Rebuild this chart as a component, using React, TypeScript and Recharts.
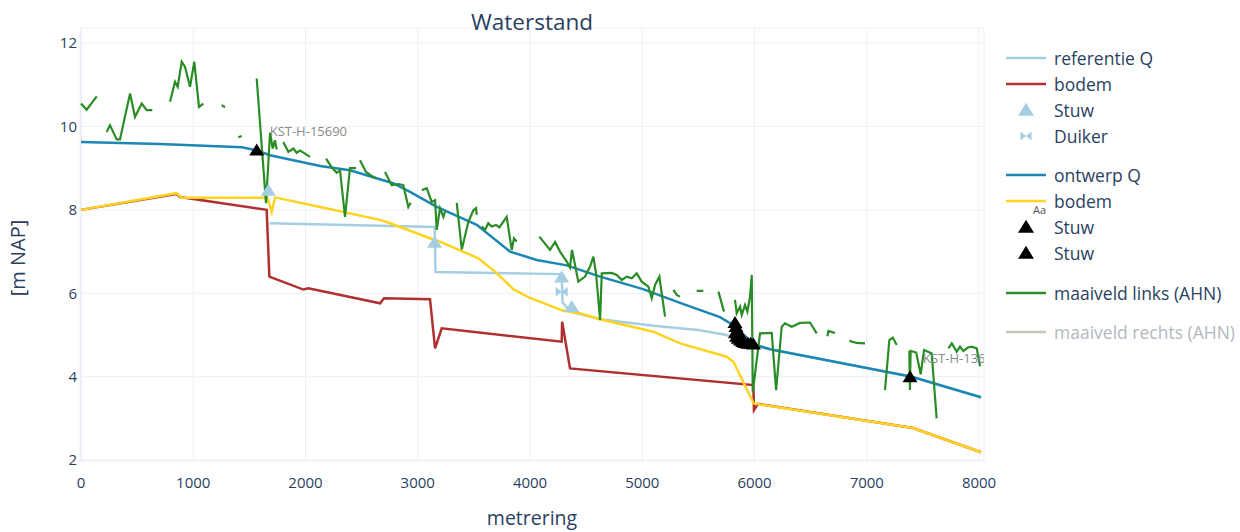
import React from 'react';
import { ComposedChart, Line, Scatter, XAxis, YAxis, CartesianGrid, ReferenceLine } from 'recharts';

type Pt = [number, number];

// Axis ticks
const xTicks = [0, 1000, 2000, 3000, 4000, 5000, 6000, 7000, 8000];
const yTicks = [2, 4, 6, 8, 10, 12];

// Water level, reference discharge
const referentieQ: Pt[] = [
  [1680, 7.68], [3150, 7.59], [3158, 6.51], [4282, 6.46], [4290, 5.78], [4360, 5.56],
  [4624, 5.38], [5100, 5.22], [5500, 5.12], [5750, 5.0], [6049, 4.71], [7400, 4.0], [8018, 3.5],
];

// Bed level, reference
const bodemReferentie: Pt[] = [
  [0, 8.0], [850, 8.38], [882, 8.31], [1654, 8.0], [1678, 6.4], [1981, 6.09], [2025, 6.12],
  [2664, 5.76], [2699, 5.88], [3109, 5.86], [3154, 4.68], [3213, 5.16], [4282, 4.84],
  [4286, 5.32], [4356, 4.2], [5989, 3.8], [5995, 3.2], [6030, 3.35], [7412, 2.77], [8018, 2.19],
];

// Weirs and culvert, reference
const stuwReferentie: Pt[] = [[1668, 8.47], [3150, 7.22], [4282, 6.39], [4371, 5.68]];
const duikers: Pt[] = [[4282, 6.04]];

// Water level, design discharge
const ontwerpQ: Pt[] = [
  [0, 9.63], [700, 9.58], [1434, 9.5], [1559, 9.43], [1684, 9.31], [2130, 9.05], [2396, 8.95],
  [2780, 8.64], [2931, 8.43], [3169, 8.07], [3525, 7.64], [3822, 7.0], [4059, 6.8], [4327, 6.67],
  [4624, 6.4], [5007, 6.1], [5336, 5.77], [5692, 5.43], [5808, 5.24], [6000, 4.77], [6138, 4.66],
  [7400, 4.0], [8018, 3.51],
];

// Bed level, design
const bodemOntwerp: Pt[] = [
  [0, 8.0], [850, 8.4], [897, 8.29], [1660, 8.29], [1699, 7.95], [1728, 8.3], [2129, 8.07],
  [2664, 7.76], [2723, 7.71], [3109, 7.32], [3198, 7.24], [3539, 6.84], [3688, 6.52], [3851, 6.1],
  [3990, 5.9], [4297, 5.58], [4445, 5.52], [4624, 5.38], [5098, 5.08], [5336, 4.8], [5752, 4.48],
  [5812, 4.36], [5992, 3.36], [7412, 2.77], [8018, 2.19],
];

// Weirs, design (labelled)
const stuwOntwerp: Pt[] = [[1565, 9.43], [7385, 4.0]];
const stuwOntwerpNames = ['KST-H-15690', 'KST-H-13690'];

// Weirs, design (cluster near 6 km)
const stuwCluster: Pt[] = [
  [5826, 5.3], [5835, 5.2], [5845, 5.12], [5830, 5.05], [5840, 4.97], [5855, 4.92], [5860, 5.02],
  [5875, 4.88], [5885, 4.95], [5895, 4.84], [5915, 4.82], [5940, 4.8], [5965, 4.8], [5990, 4.78],
];

// Ground level left bank (AHN), stretches with gaps
const maaiveldLinks: Pt[][] = [
  [[0, 10.55], [50, 10.4], [140, 10.72]],
  [[229, 9.87], [258, 10.03], [318, 9.69], [347, 9.69], [437, 10.79], [481, 10.23], [541, 10.55], [585, 10.39], [635, 10.39]],
  [[793, 10.59], [837, 11.07], [861, 10.95], [897, 11.55], [926, 11.43], [971, 10.95], [1009, 11.55], [1051, 10.47], [1090, 10.55]],
  [[1253, 10.51], [1283, 10.46]],
  [[1401, 9.74], [1432, 9.77]],
  [[1565, 11.15], [1648, 8.16], [1684, 9.85], [1708, 9.47], [1728, 9.67], [1743, 9.45]],
  [[1802, 9.63], [1847, 9.39], [1892, 9.47], [1921, 9.37], [1951, 9.42], [1996, 9.35], [2040, 9.27]],
  [[2183, 9.23], [2233, 9.02], [2278, 8.89], [2307, 8.95], [2352, 7.83], [2396, 9.0], [2450, 9.0]],
  [[2485, 9.19], [2539, 8.91], [2590, 8.81], [2628, 8.76]],
  [[2708, 8.91], [2768, 8.59], [2827, 8.62], [2871, 8.59], [2916, 8.07], [2937, 8.17]],
  [[3035, 8.47], [3080, 8.52], [3124, 8.19], [3154, 8.23], [3169, 7.52], [3198, 8.04], [3228, 7.83], [3243, 7.96]],
  [[3347, 8.17], [3392, 7.05], [3450, 7.71], [3495, 7.99], [3519, 8.04], [3525, 7.88]],
  [[3569, 7.6], [3599, 7.52], [3628, 7.68], [3658, 7.6], [3697, 7.64], [3727, 7.58], [3792, 7.83], [3837, 7.04], [3857, 7.32], [3881, 7.24]],
  [[4083, 7.36], [4178, 7.04], [4223, 7.23], [4267, 7.0], [4327, 6.76], [4356, 6.62], [4374, 7.04], [4430, 6.28],
   [4490, 6.4], [4535, 6.64], [4564, 6.88], [4588, 6.48], [4624, 5.36], [4639, 6.48], [4728, 6.49], [4772, 6.44],
   [4817, 6.32], [4861, 6.4], [4906, 6.36], [4950, 6.48], [4995, 6.28], [5054, 6.16], [5084, 5.88], [5114, 6.2],
   [5152, 6.4], [5173, 6.0], [5203, 5.44]],
  [[5277, 6.08], [5307, 5.96], [5336, 5.92]],
  [[5485, 6.06], [5544, 6.06]],
  [[5678, 6.04], [5728, 5.56]],
  [[5826, 5.84], [5841, 5.52], [5871, 5.68], [5886, 5.48], [5915, 5.72], [5936, 5.56], [5960, 5.92], [5975, 6.44],
   [5984, 3.63], [6049, 5.04], [6153, 5.05], [6192, 3.68], [6242, 5.2], [6271, 5.28], [6331, 5.2], [6405, 5.29],
   [6494, 5.3], [6554, 5.04]],
  [[6649, 4.97], [6658, 5.1], [6717, 5.05]],
  [[6845, 4.86], [6910, 4.81], [6984, 4.8]],
  [[7162, 3.68], [7201, 4.88], [7231, 4.94], [7267, 4.76]],
  [[7379, 4.62], [7384, 3.68], [7390, 4.62], [7440, 4.58], [7480, 4.06], [7510, 4.64], [7545, 4.6], [7578, 4.56], [7622, 3.0]],
  [[7727, 4.68], [7757, 4.8], [7801, 4.6], [7830, 4.72], [7860, 4.62], [7900, 4.7], [7935, 4.72], [7979, 4.68], [8009, 4.25]],
];

// Colours
const C_REF = '#a6cee3';
const C_RED = '#b03030';
const C_BLUE = '#1b87b2';
const C_YELLOW = '#fdd31f';
const C_GREEN = '#2a8c25';
const C_TEXT = '#2a3f5f';
const C_GRID = '#ebf0f8';

// Layout
const W = 1240;
const H = 532;
const PLOT_L = 80;
const PLOT_R = 984;
const PLOT_T = 28;
const PLOT_B = 461;
const Y_AXIS_W = 60;
const X_AXIS_H = 40;
const FONT = '"Open Sans", "DejaVu Sans", sans-serif';

type Row = { x: number; y: number | null; name?: string };

const toRows = (pts: Pt[]): Row[] => pts.map(([x, y]) => ({ x, y }));
const gappedRows = (segs: Pt[][]): Row[] =>
  segs.flatMap((s, i) => {
    const rows = toRows(s);
    if (i === 0) return rows;
    const prev = segs[i - 1][segs[i - 1].length - 1][0];
    return [{ x: (prev + s[0][0]) / 2, y: null }, ...rows];
  });

const triPath = (cx: number, cy: number, w: number, h: number) =>
  `M${cx},${cy - h * 0.55} L${cx + w / 2},${cy + h * 0.45} L${cx - w / 2},${cy + h * 0.45} Z`;

const bowtiePath = (cx: number, cy: number, w: number, h: number) =>
  `M${cx - w / 2},${cy - h / 2} L${cx},${cy} L${cx - w / 2},${cy + h / 2} Z M${cx + w / 2},${cy - h / 2} L${cx},${cy} L${cx + w / 2},${cy + h / 2} Z`;

const RefTriangle = (p: any) => <path d={triPath(p.cx, p.cy, 15, 12)} fill={C_REF} />;
const BlackTriangle = (p: any) => <path d={triPath(p.cx, p.cy, 15, 12)} fill="#000" />;
const Bowtie = (p: any) => <path d={bowtiePath(p.cx, p.cy, 12, 10)} fill={C_REF} />;
const LabelledTriangle = (p: any) => (
  <g>
    <path d={triPath(p.cx, p.cy, 15, 12)} fill="#000" />
    <text x={p.cx + 13} y={p.cy - 14} fontSize={13} fill="#8a8a8a" fontFamily={FONT}>
      {p.payload.name}
    </text>
  </g>
);

type LegendRow = { top: number; kind: 'line' | 'tri' | 'bowtie'; color: string; label: string; text?: boolean; faded?: boolean };
const legendRows: LegendRow[] = [
  { top: 58, kind: 'line', color: C_REF, label: 'referentie Q' },
  { top: 84, kind: 'line', color: C_RED, label: 'bodem' },
  { top: 110, kind: 'tri', color: C_REF, label: 'Stuw' },
  { top: 136, kind: 'bowtie', color: C_REF, label: 'Duiker' },
  { top: 175, kind: 'line', color: C_BLUE, label: 'ontwerp Q' },
  { top: 201, kind: 'line', color: C_YELLOW, label: 'bodem' },
  { top: 227, kind: 'tri', color: '#000', label: 'Stuw', text: true },
  { top: 253, kind: 'tri', color: '#000', label: 'Stuw' },
  { top: 293, kind: 'line', color: C_GREEN, label: 'maaiveld links (AHN)' },
  { top: 332, kind: 'line', color: '#c4c9b4', label: 'maaiveld rechts (AHN)', faded: true },
];

const LegendBox = () => (
  <>
    {legendRows.map((r, i) => (
      <React.Fragment key={i}>
        <svg style={{ position: 'absolute', left: 1004, top: r.top - 12, overflow: 'visible' }} width={44} height={24}>
          {r.kind === 'line' && <line x1={2} x2={42} y1={12} y2={12} stroke={r.color} strokeWidth={2.5} />}
          {r.kind === 'tri' && <path d={triPath(22, 12, 16, 13)} fill={r.color} />}
          {r.kind === 'bowtie' && <path d={bowtiePath(22, 12, 11, 9)} fill={r.color} />}
          {r.text && (
            <text x={29} y={-1} fontSize={11} fill="#555" fontFamily={FONT}>Aa</text>
          )}
        </svg>
        <div
          style={{
            position: 'absolute', left: 1054, top: r.top - 12, height: 24, lineHeight: '24px',
            fontSize: 17.5, color: r.faded ? '#b4b8bf' : C_TEXT, whiteSpace: 'nowrap',
          }}
        >
          {r.label}
        </div>
      </React.Fragment>
    ))}
  </>
);

export default function App() {
  const tickStyle = { fontSize: 15, fill: C_TEXT, fontFamily: FONT };
  const labelledRows = stuwOntwerp.map(([x, y], i) => ({ x, y, name: stuwOntwerpNames[i] }));

  return (
    <div style={{ position: 'absolute', left: 0, top: 0, width: W, height: H, background: '#fff', fontFamily: FONT }}>
      <ComposedChart
        width={W}
        height={H}
        margin={{ top: PLOT_T, right: W - PLOT_R, bottom: H - PLOT_B - X_AXIS_H, left: PLOT_L - Y_AXIS_W }}
      >
        <CartesianGrid stroke={C_GRID} strokeWidth={1} />
        <XAxis
          dataKey="x"
          type="number"
          domain={[-9, 8044]}
          ticks={xTicks}
          allowDataOverflow
          height={X_AXIS_H}
          axisLine={false}
          tickLine={false}
          tickSize={0}
          tickMargin={16}
          tick={tickStyle}
        />
        <YAxis
          type="number"
          domain={[1.98, 12.36]}
          ticks={yTicks}
          allowDataOverflow
          width={Y_AXIS_W}
          axisLine={false}
          tickLine={false}
          tickSize={0}
          tickMargin={3}
          tick={tickStyle}
        />
        <ReferenceLine x={0} stroke={C_GRID} strokeWidth={2} />

        <Line data={toRows(referentieQ)} dataKey="y" stroke={C_REF} strokeWidth={2.5} dot={false} isAnimationActive={false} />
        <Line data={toRows(bodemReferentie)} dataKey="y" stroke={C_RED} strokeWidth={2.5} dot={false} isAnimationActive={false} />
        <Scatter data={toRows(stuwReferentie)} dataKey="y" shape={RefTriangle} isAnimationActive={false} />
        <Scatter data={toRows(duikers)} dataKey="y" shape={Bowtie} isAnimationActive={false} />
        <Line data={toRows(ontwerpQ)} dataKey="y" stroke={C_BLUE} strokeWidth={2.5} dot={false} isAnimationActive={false} />
        <Line data={toRows(bodemOntwerp)} dataKey="y" stroke={C_YELLOW} strokeWidth={2.5} dot={false} isAnimationActive={false} />
        <Scatter data={labelledRows} dataKey="y" shape={LabelledTriangle} isAnimationActive={false} />
        <Scatter data={toRows(stuwCluster)} dataKey="y" shape={BlackTriangle} isAnimationActive={false} />
        <Line
          data={gappedRows(maaiveldLinks)}
          dataKey="y"
          stroke={C_GREEN}
          strokeWidth={2.2}
          dot={false}
          connectNulls={false}
          isAnimationActive={false}
        />
      </ComposedChart>

      <div
        style={{
          position: 'absolute', left: PLOT_L, width: PLOT_R - PLOT_L, top: 8, textAlign: 'center',
          fontSize: 22.5, color: C_TEXT, lineHeight: '28px',
        }}
      >
        Waterstand
      </div>
      <div
        style={{
          position: 'absolute', left: 18, top: 258, transform: 'translate(-50%, -50%) rotate(-90deg)',
          fontSize: 20, color: C_TEXT, whiteSpace: 'nowrap', lineHeight: '24px',
        }}
      >
        [m NAP]
      </div>
      <div
        style={{
          position: 'absolute', left: PLOT_L, width: PLOT_R - PLOT_L, top: 506, textAlign: 'center',
          fontSize: 19.5, color: C_TEXT, lineHeight: '24px',
        }}
      >
        metrering
      </div>
      <LegendBox />
    </div>
  );
}
